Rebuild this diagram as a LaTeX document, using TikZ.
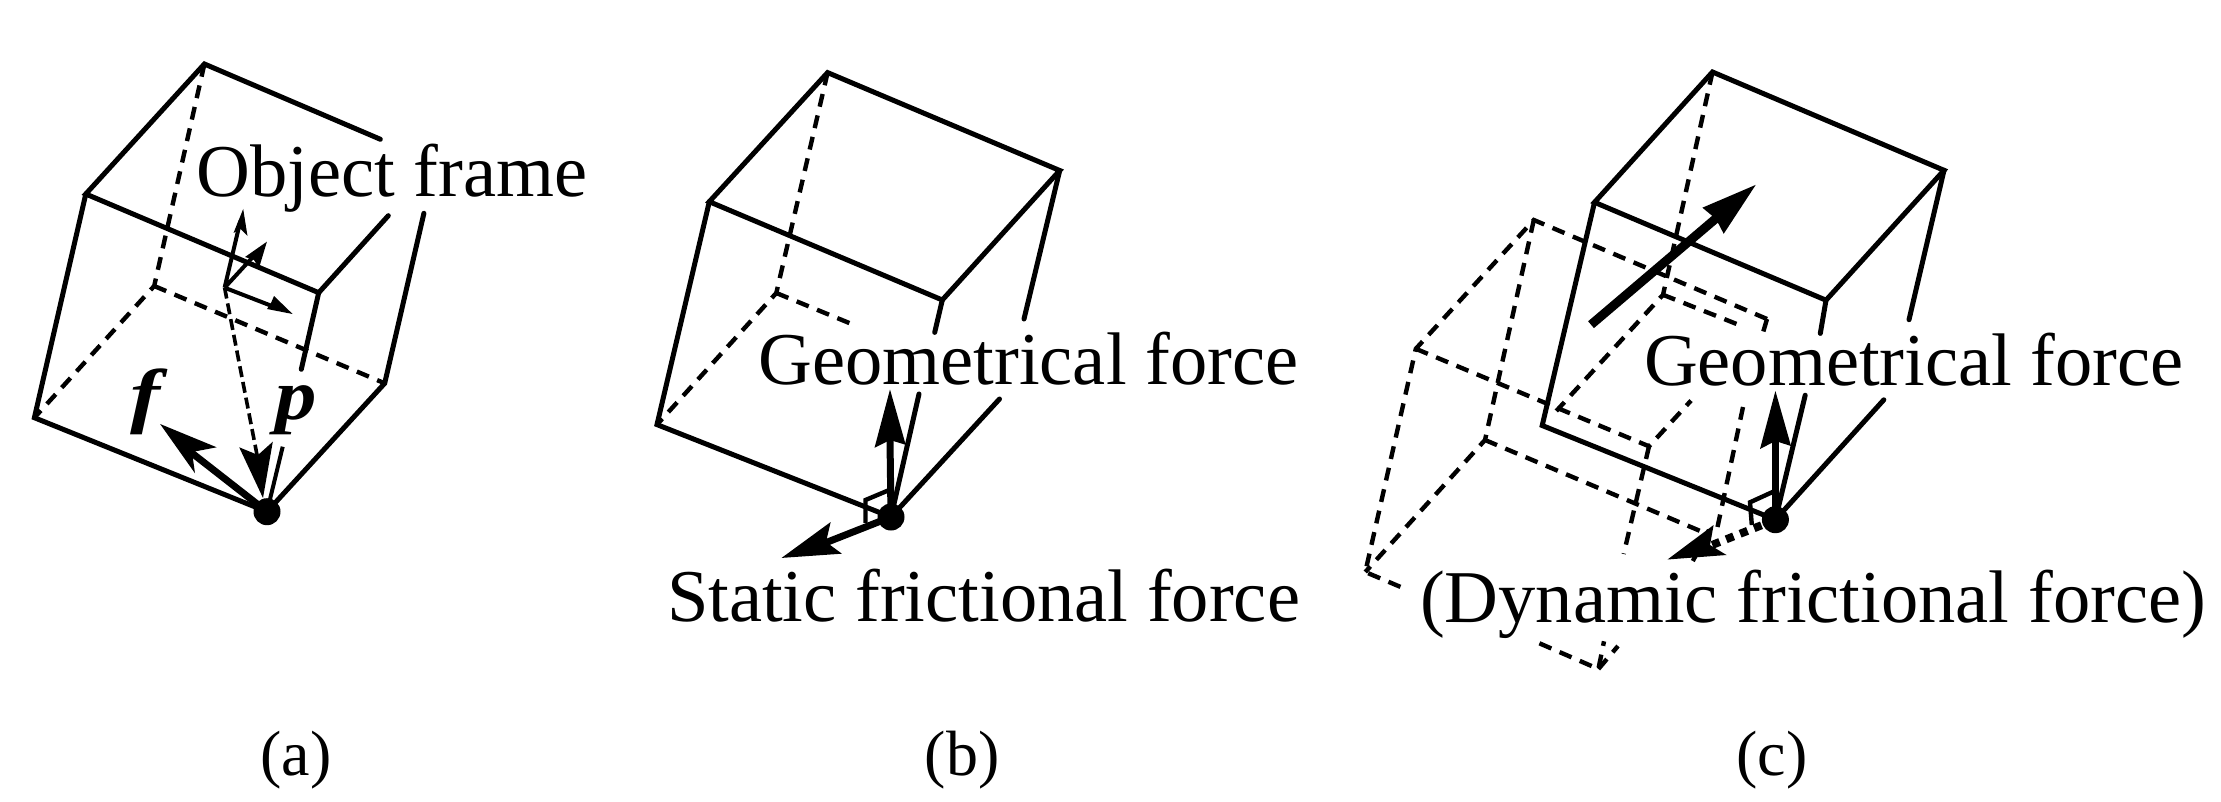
\documentclass[tikz,border=0pt]{standalone}
\usepackage{fontspec}
\usepackage{graphicx}
\setmainfont{Liberation Serif}
\usetikzlibrary{arrows.meta,calc}
\tikzset{
  solidedge/.style={draw=black,line width=5pt,line cap=round,line join=miter},
  hidden/.style={draw=black,line width=4.4pt,dash pattern=on 13pt off 9pt},
  thick arrow line/.style={draw=black,line width=7pt},
  thin arrow line/.style={draw=black,line width=4pt},
  headfill/.style={fill=black,draw=none},
  tlabel/.style={anchor=base west,inner sep=0pt,outer sep=0pt,font=\fontsize{74.5}{80}\selectfont},
  blabel/.style={anchor=base west,inner sep=0pt,outer sep=0pt,font=\fontsize{72}{78}\selectfont\bfseries\itshape},
  caplabel/.style={anchor=base,inner sep=0pt,outer sep=0pt,font=\fontsize{64}{70}\selectfont}
}
\begin{document}
\begin{tikzpicture}[x=1pt,y=-1pt]
\useasboundingbox (0,0) rectangle (2221,802);
% ---------- panel a
\coordinate (aA) at (204.4,64);
\coordinate (aB) at (85.8,194);
\coordinate (aC) at (34.4,417.7);
\coordinate (aE) at (384.7,383.3);
\coordinate (aF) at (318.7,292.7);
\coordinate (aG) at (154.2,286);
\coordinate (aA1) at (380.4,139.3);
\coordinate (aF1) at (388.3,215.7);
\coordinate (aF2) at (301.3,369.3);
\coordinate (aE1) at (423.9,213.3);
\node[circle,fill=black,inner sep=0pt,minimum size=27pt] (aD) at (267,511.7) {};
\draw[solidedge] (aA1) -- (aA) -- (aB) -- (aF) -- (aF1);
\draw[solidedge] (aB) -- (aC) -- (aD.center) -- (aE) -- (aE1);
\draw[solidedge] (aF) -- (aF2);
\draw[hidden] (aA) -- (aG) -- (aC);
\draw[hidden] (aG) -- (aE);
\coordinate (aO) at (224.6,287.7);
\coordinate (aX) at (243.2,209);
\coordinate (aY) at (266.9,241.7);
\coordinate (aZ) at (292.6,314);
\draw[thin arrow line] (aO) -- ($(aO)!0.85!(aX)$) (aO) -- ($(aO)!0.8!(aY)$) (aO) -- ($(aO)!0.8!(aZ)$);
\fill[headfill] (aX) -- (233.5,233) -- (240.5,229) -- (247.5,236) -- cycle;
\fill[headfill] (aY) -- (245,257) -- (254,260) -- (259,268) -- cycle;
\fill[headfill] (aZ) -- (267,309) -- (271,303) -- (274,296) -- cycle;
\draw[draw=black,line width=3.6pt,dash pattern=on 11pt off 5pt] (aO) -- (258,460);
\fill[headfill] (263,498) -- (239.2,447.3) -- (258,455) -- (272.8,441.7) -- cycle;
\draw[thick arrow line] (aD.center) -- (188,450);
\fill[headfill] (160.1,424) -- (216.7,447.3) -- (192,452) -- (195,473.3) -- cycle;
\draw[thin arrow line] (aD.center) -- (282.7,446.7);
\node[tlabel] (aT) at (196.5,196.5) {Object frame};
\node[blabel] (af) at (130,419) {\scalebox{1.25}[1]{f}};
\node[blabel] (ap) at (275,419) {\scalebox{1.15}[1]{p}};
\node[caplabel] (acap) at (296,775) {(a)};
% ---------- panel b
\coordinate (bA) at (827.6,72.6);
\coordinate (bB) at (709.3,201.7);
\coordinate (bC) at (657,424.6);
\coordinate (bE) at (1059.7,170.5);
\coordinate (bF) at (942.3,300);
\coordinate (bG) at (776.3,293);
\coordinate (bE1) at (1024,319);
\coordinate (bF1) at (934.7,332.4);
\coordinate (bF2) at (919,394);
\coordinate (bR) at (999.5,399);
\coordinate (bG1) at (855.3,325.5);
\node[circle,fill=black,inner sep=0pt,minimum size=27pt] (bD) at (891,517) {};
\draw[solidedge] (bA) -- (bE) -- (bF) -- (bB) -- cycle;
\draw[solidedge] (bE) -- (bE1);
\draw[solidedge] (bF) -- (bF1);
\draw[solidedge] (bB) -- (bC) -- (bD.center) -- (bR);
\draw[solidedge] (bD.center) -- (bF2);
\draw[hidden] (bA) -- (bG) -- (bC);
\draw[hidden] (bG) -- (bG1);
\draw[draw=black,line width=4.4pt] (865.5,522.9) -- (865.5,500) -- (890,489.7);
\draw[thick arrow line] (bD.center) -- (890,440);
\fill[headfill] (890,389.5) -- (874.5,447.8) -- (890,440) -- (905.7,444.8) -- cycle;
\draw[thick arrow line] (bD.center) -- (825,543);
\fill[headfill] (781.6,557.9) -- (830.7,522) -- (826,542) -- (841.9,553.7) -- cycle;
\node[tlabel] (bT1) at (758.5,384) {Geometrical force};
\node[tlabel] (bT2) at (667,621) {Static frictional force};
\node[caplabel] (bcap) at (962,775) {(b)};
% ---------- panel c
\coordinate (cA) at (1712.5,72);
\coordinate (cB) at (1594.5,202.3);
\coordinate (cC) at (1542.2,425.5);
\coordinate (cE) at (1944,170.3);
\coordinate (cF) at (1826,300.2);
\coordinate (cE1) at (1909,319.7);
\coordinate (cF1) at (1820.3,333.4);
\coordinate (cF2) at (1805.2,395.2);
\coordinate (cR) at (1883.8,399.8);
\coordinate (cG) at (1663,294.8);
\coordinate (cG1) at (1556.3,411);
\coordinate (cG2) at (1741.7,326);
\node[circle,fill=black,inner sep=0pt,minimum size=27pt] (cD) at (1775.4,519.7) {};
\draw[solidedge] (cA) -- (cE) -- (cF) -- (cB) -- cycle;
\draw[solidedge] (cE) -- (cE1);
\draw[solidedge] (cF) -- (cF1);
\draw[solidedge] (cB) -- (cC) -- (cD.center) -- (cR);
\draw[solidedge] (cD.center) -- (cF2);
\draw[hidden] (cA) -- (cG) -- (cG1);
\draw[hidden] (cG) -- (cG2);
% ghost cube
\coordinate (ga) at (1533.8,220);
\coordinate (gb) at (1415.8,348.8);
\coordinate (gc) at (1365.3,572);
\coordinate (gd) at (1598.4,669);
\coordinate (ge) at (1485,440);
\coordinate (gf) at (1649,446.3);
\coordinate (gh) at (1767,319);
\coordinate (gh0) at (1762,336);
\coordinate (gh2) at (1743,407);
\coordinate (gh1) at (1717.5,527);
\coordinate (gf1) at (1691,400.6);
\coordinate (gf2) at (1623.7,554);
\coordinate (ge1) at (1705,533);
\coordinate (gc1) at (1400.7,587);
\coordinate (gd1) at (1539.4,643.3);
\coordinate (gd2) at (1604,641.3);
\coordinate (gd3) at (1618,646);
\coordinate (gk) at (1709,530);
\coordinate (gk1) at (1691,564.5);
\draw[hidden] (gh) -- (ga) -- (gb) -- (gc) -- (gc1);
\draw[hidden] (gb) -- (gf) -- (gf1);
\draw[hidden] (gf) -- (gf2);
\draw[hidden] (ga) -- (ge) -- (gc);
\draw[hidden] (ge) -- (ge1);
\draw[hidden] (gh) -- (gh0);
\draw[hidden] (gh2) -- (gh1);
\draw[hidden] (gk) -- (gk1);
\draw[hidden] (gd1) -- (gd) -- (gd2);
\draw[hidden] (gd) -- (gd3);
% arrows
\draw[draw=black,line width=4.4pt] (1751.8,525) -- (1750,502.3) -- (1775.4,490.7);
\draw[thick arrow line] (cD.center) -- (1775.4,440);
\fill[headfill] (1775.4,391) -- (1760,449) -- (1775.4,441) -- (1791,446) -- cycle;
\draw[draw=black,line width=8pt,dash pattern=on 8pt off 7pt] (cD.center) -- (1712,545);
\fill[headfill] (1667.5,559.5) -- (1713.6,525) -- (1710,545) -- (1726.5,555) -- cycle;
\draw[thick arrow line,line width=9pt] (1591,324.7) -- (1720,215);
\fill[headfill] (1755.7,184.9) -- (1702.4,207.7) -- (1716,219) -- (1723.7,233.8) -- cycle;
\node[tlabel] (cT1) at (1644,385) {Geometrical force};
\node[tlabel] (cT2) at (1420,622) {(Dynamic frictional force)};
\node[caplabel] (ccap) at (1772,775) {(c)};
\end{tikzpicture}
\end{document}
